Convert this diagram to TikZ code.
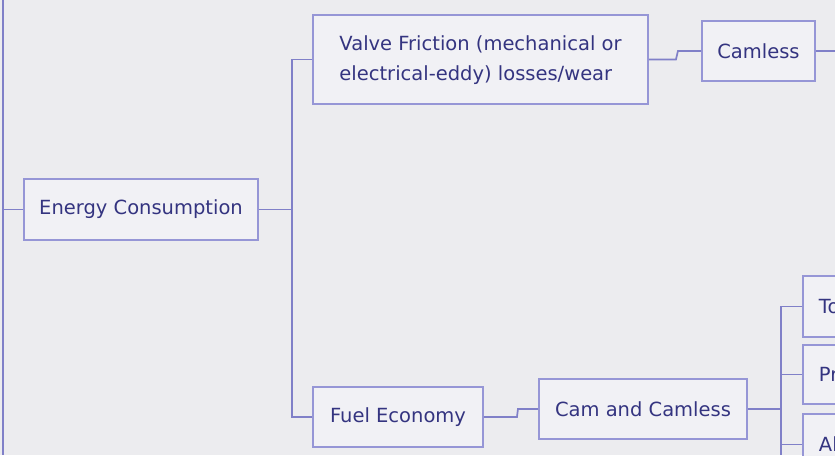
\documentclass[tikz,border=0pt]{standalone}
\usepackage{fontspec}
\setmainfont{DejaVu Sans}
\definecolor{bgc}{RGB}{236,236,239}
\definecolor{boxfill}{RGB}{241,241,245}
\definecolor{linec}{RGB}{128,128,200}
\definecolor{boxc}{RGB}{150,150,214}
\definecolor{txt}{RGB}{52,52,128}
\tikzset{
  box/.style={draw=boxc, line width=1.9pt, fill=boxfill, text=txt, inner sep=0pt,
    font=\fontsize{19.5}{29}\selectfont},
  conn/.style={draw=linec, line width=1.7pt},
}
\begin{document}
\begin{tikzpicture}[x=1pt,y=-1pt]
\fill[bgc] (0,0) rectangle (835,455);
\useasboundingbox (0,0) rectangle (835,455);
\clip (0,0) rectangle (835,455);
% nodes
\node[box, minimum width=234pt, minimum height=61pt] (EC) at (141,209.5) {Energy Consumption};
\node[box, minimum width=335pt, minimum height=89pt, align=left] (VF) at (480.5,59.5) {\raisebox{-3pt}{\begin{tabular}{@{}l@{}}Valve Friction (mechanical or\\[1pt]electrical-eddy) losses/wear\end{tabular}}};
\node[box, minimum width=113pt, minimum height=60pt] (CL) at (758.5,51) {Camless};
\node[box, minimum width=170pt, minimum height=60pt] (FE) at (398,417) {Fuel Economy};
\node[box, minimum width=208pt, minimum height=60pt] (CC) at (643,409) {Cam and Camless};
\node[box, anchor=west, minimum height=61pt, text width=120pt, inner xsep=16pt, align=left] (TO) at (802,306.5) {To};
\node[box, anchor=west, minimum height=59pt, text width=120pt, inner xsep=16pt, align=left] (PR) at (802,374.5) {Pr};
\node[box, anchor=west, minimum height=61pt, text width=120pt, inner xsep=16pt, align=left] (AL) at (802,444.5) {Al};
% coordinates
\coordinate (ltop) at (3,0);
\coordinate (lbot) at (3,455);
\coordinate (jA) at (292,209.5);
\coordinate (cr) at (835,51);
\coordinate (jB) at (781,409);
\coordinate (jBbot) at (781,455);
% connectors
\draw[conn] (ltop) -- (lbot);
\draw[conn] (EC.west) -- (EC.west -| ltop);
\draw[conn] (EC.east) -- (jA);
\draw[conn] (VF.west) -| (jA) |- (FE.west);
\draw[conn] (VF.east) -- ++(27,0) -- ++(2,-8.5) -- (CL.west);
\draw[conn] (CL.east) -- (cr);
\draw[conn] (FE.east) -- ++(33,0) -- ++(1,-8) -- (CC.west);
\draw[conn] (CC.east) -- (jB);
\draw[conn] (TO.west) -| (jBbot);
\draw[conn] (PR.west) -- (PR.west -| jB);
\draw[conn] (AL.west) -- (AL.west -| jB);
\end{tikzpicture}
\end{document}
